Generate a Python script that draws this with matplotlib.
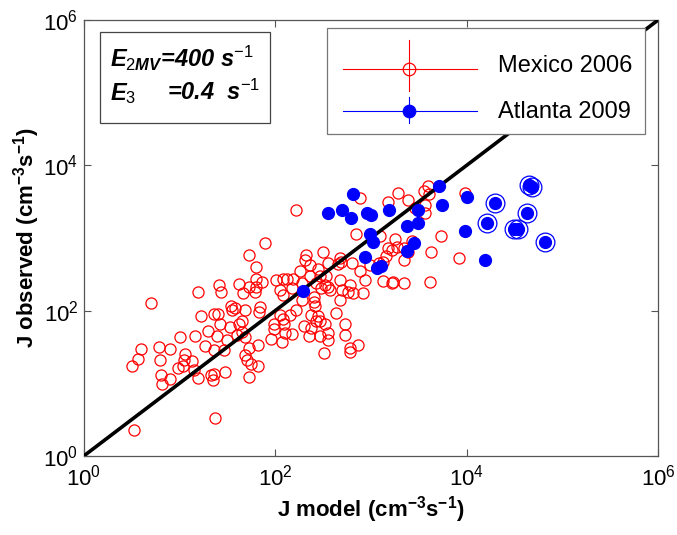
import matplotlib
matplotlib.use("Agg")
import matplotlib.pyplot as plt
import numpy as np
from matplotlib.lines import Line2D
from matplotlib.patches import Rectangle

plt.rcParams["font.family"] = ["Liberation Sans", "DejaVu Sans"]
plt.rcParams["mathtext.fontset"] = "custom"
plt.rcParams["mathtext.rm"] = "Liberation Sans"
plt.rcParams["mathtext.it"] = "Liberation Sans:italic:bold"
plt.rcParams["mathtext.bf"] = "Liberation Sans:bold"

# values, as log10 of J (cm^-3 s^-1)
mexico_log_model = [
    0.70, 1.22, 1.36, 1.40, 1.54, 1.55, 1.58, 1.68, 1.42, 1.53, 1.62, 1.65,
    1.30, 1.39, 1.16, 1.00, 1.49, 1.60, 1.65, 1.68, 1.26, 1.36, 1.46, 1.72,
    0.60, 0.78, 0.90, 0.56, 0.50, 0.79, 1.06, 1.05, 1.13, 0.98, 1.04, 1.68,
    1.70, 1.75, 0.81, 0.90, 0.82, 1.19, 1.15, 1.33, 1.35, 1.36, 1.47, 1.72,
    1.37, 0.52, 1.82, 1.84, 1.83, 2.05, 2.08, 2.09, 2.15, 2.22, 1.99, 2.10,
    2.17, 1.95, 2.07, 1.82, 2.28, 2.40, 2.41, 2.37, 2.45, 2.47, 2.52, 2.37,
    2.35, 2.47, 2.55, 2.55, 2.63, 2.68, 2.73, 2.73, 2.78, 2.78, 2.86, 2.51,
    2.88, 3.28, 3.18, 3.39, 2.22, 2.84, 1.89, 3.09, 3.25, 3.27, 3.18, 3.22,
    3.34, 3.35, 2.50, 2.32, 2.31, 2.36, 2.68, 2.69, 2.55, 2.80, 3.16, 3.13,
    3.08, 1.73, 1.80, 2.26, 2.45, 2.47, 2.53, 2.65, 2.88, 2.99, 1.80, 1.86,
    2.01, 2.08, 2.12, 2.19, 2.28, 2.36, 2.52, 2.55, 2.48, 2.57, 2.68, 2.78,
    2.94, 2.70, 2.76, 2.81, 3.13, 3.22, 3.23, 3.34, 2.05, 2.08, 2.17, 1.80,
    2.40, 2.92, 2.42, 1.19, 1.41, 1.43, 1.62, 1.66, 1.72, 1.79, 3.60, 3.55,
    3.61, 3.46, 3.56, 3.56, 3.98, 3.73, 3.43, 3.39, 3.63, 3.92, 3.62, 1.99,
    2.43, 2.30,
]
mexico_log_obs = [
    2.11, 1.93, 1.95, 1.95, 2.06, 2.01, 2.03, 2.01, 1.82, 1.78, 1.82, 1.86,
    1.72, 1.65, 1.65, 1.63, 1.60, 1.66, 1.71, 1.64, 1.51, 1.46, 1.46, 1.49,
    1.47, 1.50, 1.47, 1.34, 1.23, 1.32, 1.40, 1.32, 1.30, 1.21, 1.23, 1.39,
    1.32, 1.27, 1.11, 1.06, 0.99, 1.07, 1.18, 1.11, 1.05, 1.13, 1.16, 1.09,
    0.52, 0.36, 1.24, 2.05, 1.98, 1.94, 1.89, 1.82, 1.94, 2.01, 1.82, 1.69,
    1.68, 1.61, 1.57, 1.53, 2.14, 2.12, 2.06, 1.94, 1.92, 1.85, 1.81, 1.76,
    1.65, 1.65, 1.69, 1.60, 1.97, 2.14, 1.81, 1.66, 1.48, 1.43, 1.53, 1.41,
    3.55, 3.62, 3.50, 3.52, 3.39, 3.05, 2.93, 3.03, 2.98, 2.88, 2.86, 2.83,
    2.86, 2.70, 2.80, 2.76, 2.70, 2.63, 2.73, 2.67, 2.65, 2.66, 2.75, 2.67,
    2.65, 2.76, 2.60, 2.54, 2.57, 2.48, 2.47, 2.64, 2.55, 2.63, 2.44, 2.40,
    2.42, 2.44, 2.44, 2.44, 2.38, 2.47, 2.35, 2.33, 2.31, 2.28, 2.42, 2.35,
    2.42, 2.28, 2.26, 2.24, 2.41, 2.38, 2.40, 2.38, 2.28, 2.21, 2.31, 2.33,
    2.19, 2.24, 2.38, 2.25, 2.35, 2.26, 2.37, 2.24, 2.32, 2.26, 3.72, 3.65,
    3.61, 3.41, 3.45, 3.34, 3.62, 3.03, 2.96, 2.80, 2.80, 2.73, 2.40, 1.75,
    1.86, 1.79,
]

atlanta_log_model = [
    2.81, 2.55, 2.70, 2.79, 2.96, 3.00, 3.19, 3.38, 2.99, 3.02, 2.94, 3.06,
    3.10, 3.38, 2.29, 3.71, 3.49, 3.74, 4.00, 3.49, 3.45, 3.98, 4.19,
]
atlanta_log_obs = [
    3.60, 3.34, 3.38, 3.28, 3.35, 3.32, 3.38, 3.16, 3.05, 2.95, 2.74, 2.59,
    2.61, 2.82, 2.27, 3.72, 3.39, 3.45, 3.56, 3.21, 2.93, 3.09, 2.69,
]
# Atlanta points drawn with an extra ring
ringed_log_model = [4.30, 4.65, 4.68, 4.63, 4.21, 4.49, 4.54, 4.82]
ringed_log_obs = [3.48, 3.73, 3.70, 3.35, 3.20, 3.12, 3.12, 2.95]

one_to_one = [1e0, 1e6]

mx = 10 ** np.array(mexico_log_model)
my = 10 ** np.array(mexico_log_obs)
ax_ = 10 ** np.array(atlanta_log_model)
ay_ = 10 ** np.array(atlanta_log_obs)
rx = 10 ** np.array(ringed_log_model)
ry = 10 ** np.array(ringed_log_obs)

fig = plt.figure(figsize=(6.77, 5.35), dpi=100)
ax = fig.add_axes([0.124, 0.148, 0.848, 0.8145])

ax.plot(mx, my, "o", ms=8, mfc="none", mec="#ff0000", mew=0.9, zorder=2)
ax.plot(one_to_one, one_to_one, color="black", lw=2.6, zorder=3)
ax.plot(ax_, ay_, "o", ms=8.5, mfc="#0000ff", mec="#0000ff", zorder=4)
ax.plot(rx, ry, "o", ms=8.5, mfc="#0000ff", mec="#0000ff", zorder=4)
ax.plot(rx, ry, "o", ms=13.5, mfc="none", mec="#0000ff", mew=0.9, zorder=4)

ax.set_xscale("log")
ax.set_yscale("log")
ax.set_xlim(1, 1e6)
ax.set_ylim(1, 1e6)
ax.set_xticks([1, 1e2, 1e4, 1e6])
ax.set_yticks([1, 1e2, 1e4, 1e6])
ax.minorticks_off()
ax.tick_params(direction="in", top=True, right=True, length=5, width=0.8,
               color="#555555", labelsize=16)
ax.tick_params(axis="x", pad=6)
ax.tick_params(axis="y", pad=4)
for sp in ax.spines.values():
    sp.set_color("#555555")
    sp.set_linewidth(0.9)

ax.set_xlabel(r"J model (cm$^{\mathbf{-3}}$s$^{\mathbf{-1}}$)", fontsize=16,
              fontweight="bold", labelpad=3)
ax.set_ylabel(r"J observed (cm$^{\mathbf{-3}}$s$^{\mathbf{-1}}$)", fontsize=16,
              fontweight="bold", labelpad=1)

# parameter box
tr = ax.transAxes
ax.add_patch(Rectangle((0.028, 0.764), 0.296, 0.208, transform=tr, fc="white",
                       ec="#444444", lw=0.9, zorder=5))
kw = dict(transform=tr, fontsize=17, fontweight="bold", style="italic",
          va="baseline", zorder=6)
ax.text(0.045, 0.893, r"$\mathit{E_{2MV}}$=400 s$^{\mathit{-1}}$", **kw)
ax.text(0.045, 0.816, r"$\mathit{E_3}$", **kw)
ax.text(0.145, 0.816, r"=0.4  s$^{\mathit{-1}}$", **kw)

# legend drawn by hand so the error-bar glyphs match
ax.add_patch(Rectangle((0.424, 0.738), 0.553, 0.243, transform=tr, fc="white",
                       ec="#777777", lw=0.9, zorder=5))
entries = [
    ("Mexico 2006", "#ff0000", "none", 0.8875, 0.838, 0.954, 0.894),
    ("Atlanta 2009", "#0000ff", "#0000ff", 0.792, 0.763, 0.823, 0.789),
]
for name, col, face, yl, y0, y1, yt in entries:
    ax.add_line(Line2D([0.451, 0.684], [yl, yl], transform=tr, color=col,
                       lw=0.8, zorder=6))
    ax.add_line(Line2D([0.567, 0.567], [y0, y1], transform=tr, color=col,
                       lw=0.8, zorder=6))
    ax.add_line(Line2D([0.567], [yl], transform=tr, marker="o", ms=9,
                       mfc=face, mec=col, mew=0.9, zorder=7))
    ax.text(0.722, yt, name, transform=tr, fontsize=17, va="center", zorder=7)

fig.savefig("out.png", dpi=100)
